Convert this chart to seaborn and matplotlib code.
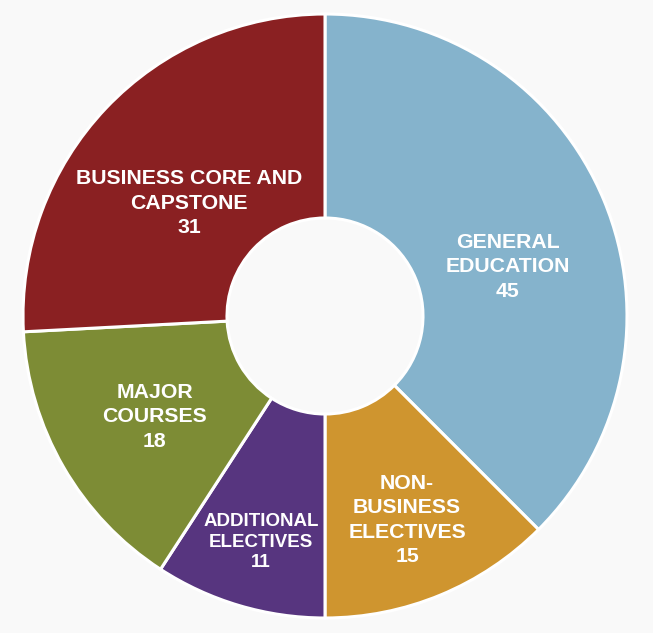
import numpy as np
import matplotlib
matplotlib.use("Agg")
import matplotlib.pyplot as plt
import seaborn as sns

categories = ["GENERAL\nEDUCATION", "NON-\nBUSINESS\nELECTIVES", "ADDITIONAL\nELECTIVES",
              "MAJOR\nCOURSES", "BUSINESS CORE AND\nCAPSTONE"]
values = [45, 15, 11, 18, 31]
colors = ["#85b3cc", "#cf952f", "#57357f", "#7d8c35", "#8a2022"]

sns.set_theme(style="white")
plt.rcParams["font.family"] = ["Liberation Sans", "DejaVu Sans"]

W, H, dpi = 653, 633, 100
fig = plt.figure(figsize=(W / dpi, H / dpi), dpi=dpi)
bg = "#f9f9f9"
fig.patch.set_facecolor(bg)
ax = fig.add_axes([0, 0, 1, 1])
ax.set_facecolor(bg)

wedges, _ = ax.pie(values, colors=colors, startangle=90, counterclock=False,
                   radius=1.0,
                   wedgeprops=dict(width=1 - 98 / 302, edgecolor="white", linewidth=2.2))

cx, cy, R = 325, 316, 302
ax.set_xlim(-cx / R, (W - cx) / R)
ax.set_ylim(-(H - cy) / R, cy / R)
ax.set_aspect("auto")
ax.axis("off")

# label placement: radius fraction and angle tweak per wedge
rfrac = [0.627, 0.728, 0.778, 0.655, 0.585]
dang = [-7.5, -0.6, 0.7, 0.7, 3.8]
fsz = [15.3, 15.3, 13.5, 15.3, 15.3]
lsp = [1.35, 1.35, 1.3, 1.35, 1.35]
for w, lab, v, rf, da, fs, ls in zip(wedges, categories, values, rfrac, dang, fsz, lsp):
    mid = np.deg2rad((w.theta1 + w.theta2) / 2 + da)
    x, y = rf * np.cos(mid), rf * np.sin(mid)
    ax.text(x, y, f"{lab}\n{v}", ha="center", va="center", color="white",
            fontsize=fs, fontweight="bold", linespacing=ls)

fig.savefig("out.png", dpi=dpi, facecolor=bg)
